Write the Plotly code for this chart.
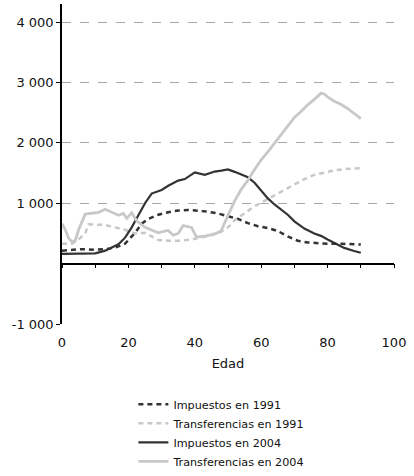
import plotly.graph_objects as go

# ---- data ----
age_imp1991 = [0, 3, 6, 10, 13, 16, 19, 22, 24, 26, 29, 32, 35, 38, 41, 44, 47, 50, 53, 56, 59, 62, 65, 68, 71, 74, 77, 80, 84, 87, 90]
imp1991 = [215, 230, 240, 230, 240, 265, 330, 510, 660, 740, 810, 850, 880, 890, 880, 860, 830, 790, 740, 670, 620, 590, 540, 450, 380, 350, 335, 330, 330, 320, 315]

age_tr1991 = [0, 3, 5, 7, 8, 10, 13, 16, 19, 22, 25, 27, 29, 32, 36, 39, 42, 45, 48, 50, 52, 55, 58, 61, 64, 67, 70, 73, 76, 79, 82, 85, 88, 90]
tr1991 = [330, 330, 400, 500, 650, 650, 640, 600, 560, 500, 510, 450, 390, 380, 380, 400, 440, 470, 530, 600, 720, 840, 950, 1040, 1130, 1210, 1300, 1400, 1470, 1510, 1545, 1565, 1575, 1580]

age_imp2004 = [0, 5, 10, 13, 17, 19, 21, 23, 25, 27, 30, 32, 35, 37, 40, 43, 46, 48, 50, 52, 54, 56, 58, 60, 62, 64, 66, 68, 70, 73, 76, 78, 80, 82, 85, 88, 90]
imp2004 = [160, 165, 170, 215, 320, 430, 600, 800, 1000, 1160, 1220, 1290, 1375, 1400, 1510, 1470, 1525, 1540, 1560, 1520, 1480, 1430, 1340, 1210, 1080, 980, 900, 810, 700, 580, 500, 460, 400, 340, 260, 210, 180]

age_tr2004 = [0, 1, 2, 3, 4, 5, 7, 9, 11, 13, 15, 17, 18.5, 19.5, 21, 22.5, 25, 27, 29, 31, 32, 33.5, 35, 36.5, 39, 40.5, 43.5, 46.5, 48, 50, 52, 54, 56, 58, 60, 62, 64, 66, 68, 70, 72, 74, 76, 78, 79, 80, 82, 84, 86, 88, 90]
tr2004 = [660, 560, 420, 360, 380, 560, 820, 840, 850, 900, 850, 800, 830, 750, 840, 710, 600, 550, 510, 540, 550, 470, 500, 630, 600, 440, 460, 500, 550, 800, 1040, 1230, 1380, 1560, 1720, 1850, 1990, 2120, 2280, 2420, 2520, 2630, 2720, 2820, 2810, 2760, 2690, 2640, 2570, 2490, 2400]

y_tickvals = [-1000, 1000, 2000, 3000, 4000]
y_ticktext = ["-1 000", "1 000", "2 000", "3 000", "4 000"]
x_tickvals = [0, 20, 40, 60, 80, 100]

DARK = "#333333"
LIGHT = "#c8c8c8"
FONT = "DejaVu Sans, Verdana, sans-serif"

fig = go.Figure()
fig.add_trace(go.Scatter(x=age_imp1991, y=imp1991, mode="lines", name="Impuestos en 1991",
                         line=dict(color=DARK, width=2.5, dash="5px,4px")))
fig.add_trace(go.Scatter(x=age_tr1991, y=tr1991, mode="lines", name="Transferencias en 1991",
                         line=dict(color=LIGHT, width=2.5, dash="5px,4px")))
fig.add_trace(go.Scatter(x=age_imp2004, y=imp2004, mode="lines", name="Impuestos en 2004",
                         line=dict(color=DARK, width=2.2)))
fig.add_trace(go.Scatter(x=age_tr2004, y=tr2004, mode="lines", name="Transferencias en 2004",
                         line=dict(color=LIGHT, width=2.8)))
# empty trace so the zero-line axis (x2) with its tick marks is drawn
fig.add_trace(go.Scatter(x=[], y=[], xaxis="x2", yaxis="y", showlegend=False, hoverinfo="skip"))

y_min, y_max = -1000, 4300
fig.update_layout(
    width=414, height=476,
    margin=dict(l=62, r=20, t=4, b=152),
    paper_bgcolor="white", plot_bgcolor="white",
    font=dict(family=FONT, size=12, color="#111111"),
    showlegend=True,
    legend=dict(x=0.215, y=0.181, xanchor="left", yanchor="top", yref="container",
                font=dict(size=11.2), tracegroupgap=0, bgcolor="rgba(0,0,0,0)"),
    xaxis=dict(range=[0, 100], tickvals=x_tickvals, showline=False,
               ticks="outside", ticklen=6, tickcolor="rgba(0,0,0,0)",
               showgrid=False, zeroline=False, tickfont=dict(size=13),
               title=dict(text="Edad", font=dict(size=13), standoff=10)),
    xaxis2=dict(range=[0, 100], overlaying="x", anchor="free",
                position=(0 - y_min) / (y_max - y_min),
                showline=True, linecolor="black", linewidth=1.5,
                ticks="outside", ticklen=4, tickcolor="black", dtick=10, tick0=0,
                showticklabels=False, showgrid=False, zeroline=False),
    yaxis=dict(range=[y_min, y_max], tickvals=y_tickvals, ticktext=y_ticktext,
               showline=True, linecolor="black", linewidth=1.5,
               ticks="outside", ticklen=4, tickcolor="black",
               showgrid=True, gridcolor="#a8a8a8", griddash="dash", gridwidth=1,
               zeroline=True, zerolinecolor="black", zerolinewidth=1.5,
               tickfont=dict(size=13)),
)

fig.write_html("out.html", config={"displayModeBar": False},
               post_script="document.body.style.margin='0';")
